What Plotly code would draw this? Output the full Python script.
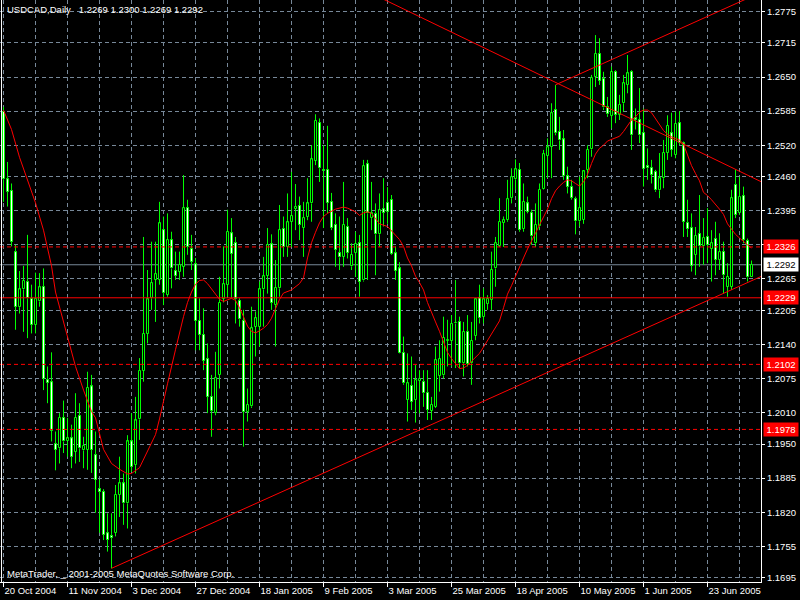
import plotly.graph_objects as go

# ---------------- data (USDCAD daily) ----------------
opens = [1.2584,1.2455,1.2433,1.2316,1.2211,1.2245,1.2259,1.2227,1.2177,1.2222,
         1.2250,1.2072,1.2068,1.1950,1.1942,1.2000,1.1955,1.1961,1.1935,1.2004,
         1.1938,1.1939,1.2060,1.1929,1.1864,1.1859,1.1780,1.1775,1.1781,1.1853,
         1.1875,1.1837,1.1955,1.1910,1.1997,1.2090,1.2160,1.2228,1.2263,1.2263,
         1.2358,1.2235,1.2339,1.2280,1.2279,1.2288,1.2400,1.2323,1.2293,1.2185,
         1.2158,1.2112,1.2040,1.2009,1.2082,1.2227,1.2254,1.2352,1.2334,1.2223,
         1.2185,1.2012,1.2022,1.2174,1.2174,1.2245,1.2271,1.2331,1.2215,1.2247,
         1.2360,1.2326,1.2374,1.2399,1.2404,1.2362,1.2384,1.2409,1.2490,1.2563,
         1.2473,1.2473,1.2412,1.2368,1.2315,1.2307,1.2364,1.2289,1.2314,1.2333,
         1.2262,1.2484,1.2381,1.2389,1.2350,1.2398,1.2410,1.2416,1.2314,1.2285,
         1.2124,1.2034,1.2061,1.2034,1.2071,1.2069,1.2048,1.2014,1.2021,1.2080,
         1.2081,1.2147,1.2147,1.2180,1.2183,1.2104,1.2164,1.2104,1.2156,1.2228,
         1.2193,1.2218,1.2225,1.2285,1.2328,1.2372,1.2377,1.2419,1.2455,1.2473,
         1.2360,1.2409,1.2391,1.2333,1.2365,1.2436,1.2499,1.2517,1.2588,1.2546,
         1.2531,1.2461,1.2441,1.2417,1.2375,1.2378,1.2473,1.2512,1.2650,1.2694,
         1.2646,1.2593,1.2576,1.2660,1.2578,1.2600,1.2635,1.2660,1.2571,1.2568,
         1.2543,1.2480,1.2477,1.2469,1.2434,1.2457,1.2506,1.2543,1.2501,1.2562,
         1.2524,1.2372,1.2362,1.2311,1.2351,1.2327,1.2345,1.2323,1.2341,1.2301,
         1.2317,1.2250,1.2250,1.2445,1.2390,1.2423,1.2338,1.2269]
highs = [1.2593,1.2488,1.2447,1.2330,1.2280,1.2290,1.2349,1.2254,1.2277,1.2276,
         1.2285,1.2098,1.2125,1.1974,1.2009,1.2033,1.2000,1.1987,1.2047,1.2028,
         1.1964,1.2088,1.2082,1.1974,1.1882,1.1864,1.1818,1.1818,1.1872,1.1926,
         1.1894,1.1967,1.2009,1.2040,1.2114,1.2345,1.2282,1.2336,1.2336,1.2412,
         1.2384,1.2390,1.2355,1.2317,1.2317,1.2463,1.2416,1.2349,1.2305,1.2228,
         1.2209,1.2142,1.2082,1.2126,1.2269,1.2327,1.2397,1.2381,1.2345,1.2228,
         1.2206,1.2056,1.2212,1.2203,1.2260,1.2307,1.2362,1.2350,1.2301,1.2406,
         1.2384,1.2428,1.2469,1.2446,1.2422,1.2412,1.2457,1.2520,1.2579,1.2571,
         1.2520,1.2557,1.2429,1.2390,1.2384,1.2450,1.2381,1.2333,1.2355,1.2349,
         1.2492,1.2492,1.2450,1.2409,1.2428,1.2457,1.2440,1.2425,1.2327,1.2297,
         1.2155,1.2123,1.2117,1.2101,1.2091,1.2091,1.2091,1.2040,1.2136,1.2148,
         1.2193,1.2187,1.2196,1.2263,1.2193,1.2183,1.2196,1.2183,1.2228,1.2254,
         1.2247,1.2234,1.2317,1.2345,1.2419,1.2384,1.2454,1.2476,1.2493,1.2486,
         1.2447,1.2422,1.2397,1.2409,1.2447,1.2511,1.2533,1.2600,1.2635,1.2574,
         1.2549,1.2479,1.2454,1.2422,1.2460,1.2472,1.2520,1.2654,1.2730,1.2724,
         1.2660,1.2612,1.2670,1.2663,1.2616,1.2654,1.2692,1.2663,1.2590,1.2629,
         1.2590,1.2514,1.2492,1.2473,1.2505,1.2530,1.2577,1.2582,1.2584,1.2585,
         1.2527,1.2416,1.2390,1.2364,1.2425,1.2381,1.2400,1.2358,1.2374,1.2352,
         1.2336,1.2295,1.2435,1.2474,1.2460,1.2441,1.2342,1.2300]
lows = [1.2412,1.2403,1.2327,1.2168,1.2199,1.2164,1.2152,1.2161,1.2161,1.2212,
        1.2053,1.2028,1.1955,1.1900,1.1913,1.1933,1.1926,1.1904,1.1913,1.1916,
        1.1904,1.1901,1.1895,1.1819,1.1781,1.1767,1.1745,1.1713,1.1774,1.1811,
        1.1796,1.1789,1.1897,1.1894,1.1958,1.2069,1.2142,1.2206,1.2183,1.2254,
        1.2215,1.2231,1.2247,1.2263,1.2263,1.2269,1.2311,1.2282,1.2129,1.2129,
        1.2091,1.2009,1.1964,1.2005,1.2056,1.2220,1.2231,1.2228,1.2180,1.2174,
        1.1945,1.1993,1.2019,1.2117,1.2136,1.2174,1.2237,1.2206,1.2136,1.2231,
        1.2307,1.2307,1.2326,1.2358,1.2339,1.2307,1.2377,1.2374,1.2482,1.2450,
        1.2362,1.2390,1.2358,1.2288,1.2282,1.2288,1.2304,1.2282,1.2269,1.2231,
        1.2260,1.2263,1.2358,1.2272,1.2326,1.2365,1.2370,1.2311,1.2263,1.2123,
        1.2063,1.1993,1.2015,1.1991,1.2009,1.2021,1.1996,1.1996,1.2019,1.2050,
        1.2075,1.2098,1.2098,1.2095,1.2095,1.2079,1.2098,1.2063,1.2148,1.2180,
        1.2180,1.2206,1.2206,1.2250,1.2326,1.2326,1.2374,1.2409,1.2435,1.2355,
        1.2355,1.2390,1.2330,1.2326,1.2358,1.2435,1.2457,1.2457,1.2539,1.2511,
        1.2454,1.2428,1.2416,1.2350,1.2365,1.2370,1.2457,1.2498,1.2631,1.2635,
        1.2587,1.2574,1.2552,1.2562,1.2568,1.2584,1.2619,1.2511,1.2550,1.2524,
        1.2441,1.2454,1.2447,1.2431,1.2419,1.2438,1.2492,1.2498,1.2495,1.2520,
        1.2345,1.2345,1.2279,1.2272,1.2288,1.2292,1.2295,1.2260,1.2272,1.2282,
        1.2237,1.2231,1.2244,1.2381,1.2387,1.2333,1.2260,1.2269]
closes = [1.2455,1.2431,1.2336,1.2212,1.2245,1.2261,1.2228,1.2177,1.2227,1.2249,
          1.2075,1.2067,1.1975,1.1939,1.2000,1.1955,1.1961,1.1926,1.2000,1.1942,
          1.1947,1.2057,1.1939,1.1882,1.1859,1.1777,1.1768,1.1771,1.1853,1.1875,
          1.1837,1.1955,1.1907,1.1995,1.2090,1.2160,1.2226,1.2257,1.2274,1.2371,
          1.2238,1.2339,1.2285,1.2271,1.2292,1.2400,1.2326,1.2298,1.2185,1.2158,
          1.2109,1.2040,1.2014,1.2076,1.2220,1.2255,1.2355,1.2313,1.2226,1.2188,
          1.2012,1.2025,1.2171,1.2190,1.2245,1.2270,1.2330,1.2219,1.2248,1.2358,
          1.2326,1.2373,1.2385,1.2403,1.2368,1.2381,1.2409,1.2493,1.2567,1.2476,
          1.2470,1.2410,1.2362,1.2320,1.2306,1.2368,1.2315,1.2311,1.2332,1.2260,
          1.2480,1.2390,1.2390,1.2350,1.2396,1.2391,1.2392,1.2313,1.2281,1.2124,
          1.2066,1.2066,1.2031,1.2072,1.2074,1.2047,1.2015,1.2025,1.2110,1.2112,
          1.2153,1.2148,1.2179,1.2181,1.2104,1.2164,1.2103,1.2147,1.2226,1.2190,
          1.2226,1.2227,1.2282,1.2333,1.2374,1.2377,1.2417,1.2459,1.2474,1.2358,
          1.2412,1.2393,1.2346,1.2368,1.2435,1.2503,1.2516,1.2581,1.2543,1.2529,
          1.2461,1.2441,1.2420,1.2375,1.2400,1.2470,1.2511,1.2649,1.2694,1.2643,
          1.2592,1.2579,1.2660,1.2578,1.2597,1.2638,1.2657,1.2539,1.2568,1.2539,
          1.2474,1.2476,1.2463,1.2434,1.2457,1.2505,1.2557,1.2511,1.2561,1.2524,
          1.2374,1.2360,1.2290,1.2347,1.2327,1.2343,1.2330,1.2333,1.2301,1.2316,
          1.2272,1.2269,1.2419,1.2387,1.2422,1.2339,1.2268,1.2292]

# moving average (read at bar positions)
ma_bars = [0,2,4,7,8,10,12,13,15,17,18,20,22,23,24,25,27,29,31,32,34,35,37,38,39,40,41,43,44,45,
           46,47,48,49,50,51,53,54,55,56,57,58,59,60,61,62,63,64,65,66,67,68,69,70,72,74,75,76,77,78,
           79,80,81,83,85,86,87,88,89,90,91,92,93,94,96,97,99,100,101,102,103,104,105,106,107,108,109,110,111,112,
           113,114,115,116,117,118,119,120,121,122,123,124,125,126,127,128,129,130,131,132,133,134,135,136,137,138,
           139,140,141,142,143,144,145,146,147,148,149,150,151,152,153,154,155,156,157,158,159,160,161,162,163,164,
           165,166,167,168,169,170,171,172,173,174,175,176,177,178,179,180,181,182,183,184,185,186,187]
ma_vals = [1.2587,1.2550,1.2497,1.2430,1.2410,1.2358,1.2290,1.2240,1.2181,1.2125,1.2098,1.2053,1.2012,1.2000,1.1970,1.1940,1.1913,1.1902,1.1893,1.1894,
           1.1905,1.1920,1.1952,1.1968,1.1998,1.2034,1.2065,1.2130,1.2163,1.2193,
           1.2220,1.2240,1.2255,1.2262,1.2263,1.2256,1.2236,1.2226,1.2222,1.2225,1.2228,1.2224,1.2210,1.2193,1.2175,1.2165,1.2162,1.2166,1.2171,1.2178,
           1.2190,1.2208,1.2226,1.2238,1.2244,1.2256,1.2267,1.2305,1.2334,1.2354,
           1.2372,1.2384,1.2390,1.2398,1.2402,1.2400,1.2397,1.2393,1.2386,1.2391,1.2393,1.2390,1.2380,1.2370,1.2365,1.2357,1.2340,1.2327,1.2305,1.2290,
           1.2270,1.2258,1.2244,1.2220,1.2200,1.2183,1.2165,1.2145,1.2125,1.2113,
           1.2104,1.2094,1.2095,1.2100,1.2108,1.2116,1.2123,1.2135,1.2148,1.2160,1.2172,1.2185,1.2210,1.2236,1.2252,1.2270,1.2290,1.2305,1.2322,1.2336,
           1.2352,1.2368,1.2383,1.2398,1.2418,1.2433,
           1.2442,1.2449,1.2454,1.2452,1.2447,1.2442,1.2450,1.2464,1.2485,1.2503,1.2514,1.2520,1.2528,1.2531,1.2533,1.2537,1.2546,1.2558,1.2568,1.2574,
           1.2583,1.2587,1.2587,1.2582,1.2571,1.2558,
           1.2548,1.2541,1.2536,1.2533,1.2530,1.2522,1.2503,1.2481,1.2466,1.2452,1.2430,1.2424,1.2416,1.2408,1.2398,1.2388,1.2370,1.2360,1.2350,1.2343,
           1.2336,1.2330,1.2324]

# trend lines (bar, price) end points
support_bars, support_prices = [27, 189.5], [1.1713, 1.2270]
resist_bars, resist_prices = [94, 189.5], [1.2802, 1.2450]
channel_bars, channel_prices = [138, 189.5], [1.2635, 1.2812]

# horizontal levels
dashed_levels = [1.2326, 1.2102, 1.1978]
solid_level = 1.2229
bid_price = 1.2292

# axis ticks
date_tick_bars = [0, 16, 32, 48, 64, 80, 96, 112, 128, 144, 160, 176]
date_tick_labels = ["20 Oct 2004", "11 Nov 2004", "3 Dec 2004", "27 Dec 2004", "18 Jan 2005",
                    "9 Feb 2005", "3 Mar 2005", "25 Mar 2005", "18 Apr 2005", "10 May 2005",
                    "1 Jun 2005", "23 Jun 2005"]
grid_bars_minor = [8, 24, 40, 56, 72, 88, 104, 120, 136, 152, 168, 184]
price_ticks = [1.2775, 1.2715, 1.2650, 1.2585, 1.2520, 1.2460, 1.2395, 1.2330, 1.2265,
               1.2205, 1.2140, 1.2075, 1.2010, 1.1950, 1.1885, 1.1820, 1.1755, 1.1695]
price_tick_labels = ["1.2775", "1.2715", "1.2650", "1.2585", "1.2520", "1.2460", "1.2395", "",
                     "1.2265", "1.2205", "1.2140", "1.2075", "1.2010", "1.1950", "1.1885",
                     "1.1820", "1.1755", "1.1695"]

title_text = "USDCAD,Daily\u00a0\u00a0 1.2269 1.2300 1.2269 1.2292"
footer_text = "MetaTrader, _ 2001-2005 MetaQuotes Software Corp."

# ---------------- figure ----------------
FONT = "Liberation Sans, Arial, sans-serif"
GRID = "#778899"
LIME = "#00FF00"
bars = list(range(len(opens)))

body_top = [max(o, c) for o, c in zip(opens, closes)]
body_bot = [min(o, c) for o, c in zip(opens, closes)]
body_h = [max(t - b, 0.00002) for t, b in zip(body_top, body_bot)]
body_fill = ["#000000" if c >= o else "#FFFFFF" for o, c in zip(opens, closes)]

# wicks: upper (body top -> high) and lower (low -> body bottom), so they never cross a body
wx, wy = [], []
for i in bars:
    wx += [i, i, None, i, i, None]
    wy += [body_top[i], highs[i], None, lows[i], body_bot[i], None]

fig = go.Figure()
fig.add_trace(go.Scatter(x=wx, y=wy, mode="lines", line=dict(color=LIME, width=1),
                         showlegend=False, hoverinfo="skip", connectgaps=False))
fig.add_trace(go.Bar(x=bars, y=body_h, base=body_bot, width=0.5,
                     marker=dict(color=body_fill, line=dict(color=LIME, width=1)),
                     showlegend=False, hoverinfo="skip"))
fig.add_trace(go.Scatter(x=ma_bars, y=ma_vals, mode="lines",
                         line=dict(color="#FF0000", width=1), showlegend=False, hoverinfo="skip"))
for bx, py in [(support_bars, support_prices), (resist_bars, resist_prices), (channel_bars, channel_prices)]:
    fig.add_trace(go.Scatter(x=bx, y=py, mode="lines", line=dict(color="#FF0000", width=1),
                             showlegend=False, hoverinfo="skip"))

shapes = []
for lv in dashed_levels:
    shapes.append(dict(type="line", xref="paper", x0=0, x1=1, yref="y", y0=lv, y1=lv,
                       line=dict(color="#FF0000", width=1, dash="4px,3px"), layer="above"))
shapes.append(dict(type="line", xref="paper", x0=0, x1=1, yref="y", y0=solid_level, y1=solid_level,
                   line=dict(color="#FF0000", width=1), layer="above"))
shapes.append(dict(type="line", xref="paper", x0=0, x1=1, yref="y", y0=bid_price, y1=bid_price,
                   line=dict(color=GRID, width=1), layer="below"))
shapes.append(dict(type="line", xref="paper", x0=0.002, x1=0.002, yref="paper", y0=0, y1=1,
                   line=dict(color="#FFFFFF", width=1), layer="above"))

annotations = [
    dict(text=title_text, xref="paper", yref="paper", x=0, y=1, xanchor="left", yanchor="top",
         xshift=5, yshift=-2, showarrow=False, font=dict(family=FONT, size=9.5, color="#FFFFFF")),
    dict(text=footer_text, xref="paper", yref="paper", x=0, y=0, xanchor="left", yanchor="bottom",
         xshift=5, yshift=1, showarrow=False, font=dict(family=FONT, size=9.5, color="#FFFFFF")),
]
for lv in dashed_levels + [solid_level]:
    annotations.append(dict(text=f"{lv:.4f}", xref="paper", yref="y", x=1, y=lv, xanchor="left",
                            yanchor="middle", xshift=2, showarrow=False, bgcolor="#FF0000",
                            borderpad=1, width=32, font=dict(family=FONT, size=9.5, color="#FFFFFF")))
annotations.append(dict(text=f"{bid_price:.4f}", xref="paper", yref="y", x=1, y=bid_price, xanchor="left",
                        yanchor="middle", xshift=2, showarrow=False, bgcolor="#FFFFFF",
                        borderpad=1, width=32, font=dict(family=FONT, size=9.5, color="#000000")))

fig.update_layout(
    width=800, height=600,
    paper_bgcolor="#000000", plot_bgcolor="#000000",
    margin=dict(l=0, r=39, t=0, b=18, pad=0),
    showlegend=False, shapes=shapes, annotations=annotations, bargap=0,
    xaxis=dict(range=[-0.875, 189.375],
               tickmode="array", tickvals=date_tick_bars, ticktext=date_tick_labels,
               ticks="outside", ticklen=4, tickcolor="#FFFFFF", tickwidth=1,
               ticklabelposition="outside right",
               tickfont=dict(family=FONT, size=9.5, color="#FFFFFF"),
               showgrid=True, gridcolor=GRID, gridwidth=1, griddash="4px,3px",
               minor=dict(tickvals=grid_bars_minor, showgrid=True, gridcolor=GRID,
                          gridwidth=1, griddash="4px,3px", ticks=""),
               showline=True, linecolor="#FFFFFF", linewidth=1, zeroline=False, fixedrange=True),
    yaxis=dict(range=[1.1687, 1.27969], side="right",
               tickmode="array", tickvals=price_ticks, ticktext=price_tick_labels,
               ticks="outside", ticklen=3, tickcolor="#FFFFFF", tickwidth=1,
               tickfont=dict(family=FONT, size=9.5, color="#FFFFFF"),
               showgrid=True, gridcolor=GRID, gridwidth=1, griddash="4px,3px",
               showline=True, linecolor="#FFFFFF", linewidth=1, zeroline=False, fixedrange=True),
)

fig.write_html("out.html", config={"displayModeBar": False},
               post_script="document.body.style.margin='0';document.body.style.overflow='hidden';")
